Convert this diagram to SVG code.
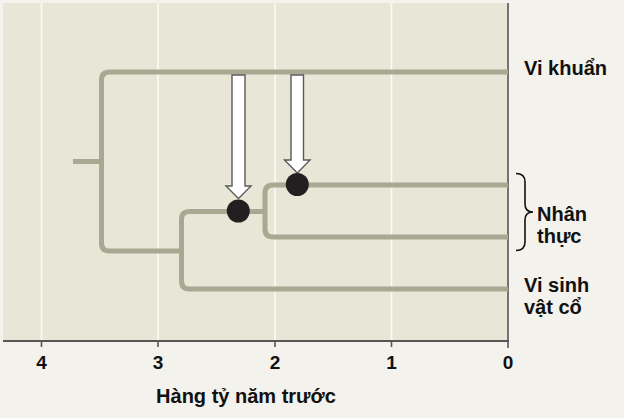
<svg xmlns="http://www.w3.org/2000/svg" width="624" height="418" viewBox="0 0 624 418">
<style>
.lbl{font-family:"Liberation Sans",Arial,sans-serif;font-weight:bold;font-size:20px;fill:#111}
.tick{font-family:"Liberation Sans",Arial,sans-serif;font-weight:bold;font-size:19px;fill:#111}
.br{fill:none;stroke:#a9a892;stroke-width:5;stroke-linejoin:round}
.grid{stroke:#fbfaf4;stroke-width:1.6}
.arrow{fill:#ffffff;stroke:#5a5a5a;stroke-width:1.4}
.dot{fill:#231f20}
</style>
<rect x="0" y="0" width="624" height="418" fill="#f4f2ec"/>
<rect x="3" y="3" width="505" height="338" fill="#e8e6d6"/>
<g id="grid">
<line class="grid" x1="41.5" y1="3" x2="41.5" y2="341"/>
<line class="grid" x1="158" y1="3" x2="158" y2="341"/>
<line class="grid" x1="275" y1="3" x2="275" y2="341"/>
<line class="grid" x1="391.5" y1="3" x2="391.5" y2="341"/>
</g>
<g id="axes" stroke="#555" fill="none">
<line x1="508" y1="3" x2="508" y2="348" stroke-width="1.6"/>
<line x1="3" y1="341" x2="509" y2="341" stroke-width="2"/>
<line x1="41.5" y1="341" x2="41.5" y2="347" stroke-width="1.6"/>
<line x1="158" y1="341" x2="158" y2="347" stroke-width="1.6"/>
<line x1="275" y1="341" x2="275" y2="347" stroke-width="1.6"/>
<line x1="391.5" y1="341" x2="391.5" y2="347" stroke-width="1.6"/>
</g>
<g id="axis-labels" text-anchor="middle">
<text class="tick" x="41.5" y="369">4</text>
<text class="tick" x="158" y="369">3</text>
<text class="tick" x="275" y="369">2</text>
<text class="tick" x="391.5" y="369">1</text>
<text class="tick" x="508" y="369">0</text>
<text class="lbl" x="246" y="403">Hàng tỷ năm trước</text>
</g>
<g id="connectors">
<line class="br" x1="73" y1="161.5" x2="101.5" y2="161.5"/>
<path class="br" d="M508 72 H109.5 Q101.5 72 101.5 80 V243 Q101.5 251 109.5 251 H181.5"/>
<path class="br" d="M265 211.5 H189.5 Q181.5 211.5 181.5 219.5 V281 Q181.5 289 189.5 289 H508"/>
<path class="br" d="M508 185 H273 Q265 185 265 193 V229 Q265 237 273 237 H508"/>
</g>
<g id="arrow1"><polygon class="arrow" points="232,75 245,75 245,186 251,186 238.5,198.5 226,186 232,186"/></g>
<g id="arrow2"><polygon class="arrow" points="291,75 303.5,75 303.5,160 310,160 297.3,173 284.5,160 291,160"/></g>
<g id="dot1"><circle class="dot" cx="238.3" cy="211" r="11.5"/></g>
<g id="dot2"><circle class="dot" cx="297.3" cy="184.5" r="11.5"/></g>
<g id="bacteria"><text class="lbl" x="524" y="75">Vi khuẩn</text></g>
<g id="eukarya">
<path d="M516 173.5 Q525 173.5 525 182 V204 Q525 212 533 212 Q525 212 525 220 V242 Q525 250.5 516 250.5" fill="none" stroke="#111" stroke-width="1.6"/>
<text class="lbl" x="537" y="221">Nhân</text>
<text class="lbl" x="537" y="243">thực</text>
</g>
<g id="archaea">
<text class="lbl" x="524" y="292">Vi sinh</text>
<text class="lbl" x="524" y="314">vật cổ</text>
</g>
</svg>
